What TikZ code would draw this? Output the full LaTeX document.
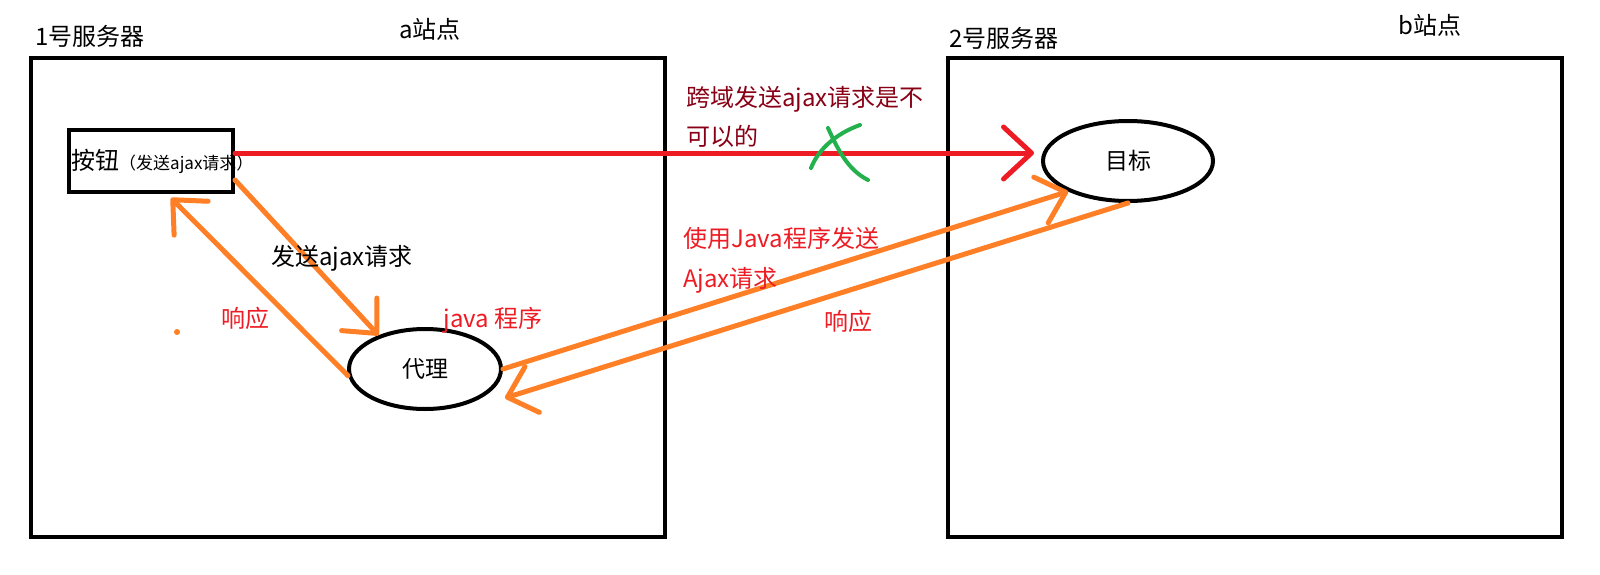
\documentclass[tikz,border=0pt]{standalone}
\usepackage{fontspec}
\setmainfont{Noto Sans CJK SC}
\usetikzlibrary{arrows.meta,shapes.geometric,positioning,calc}
\definecolor{paintred}{RGB}{237,28,36}
\definecolor{paintdarkred}{RGB}{136,0,21}
\definecolor{paintorange}{RGB}{255,127,39}
\definecolor{paintgreen}{RGB}{34,177,76}
\tikzset{
  lbl/.style={inner sep=0pt,font=\fontsize{24}{28}\selectfont},
  redlbl/.style={lbl,text=paintred},
  serverbox/.style={rectangle,draw=black,line width=4pt,inner sep=0pt},
  btnbox/.style={rectangle,draw=black,line width=4pt,inner sep=0pt},
  endpoint/.style={ellipse,draw=black,line width=4pt,inner sep=0pt,font=\fontsize{23}{26}\selectfont},
  redarr/.style={draw=paintred,line width=5pt,line cap=round,-{Straight Barb[length=28pt,width=52pt,line width=5pt,round]}},
  orangearr/.style={draw=paintorange,line width=5pt,line cap=round,-{Straight Barb[length=26pt,width=48pt,line width=5pt,round]}},
  crossmark/.style={draw=paintgreen,line width=4pt,line cap=round}
}
\begin{document}
\begin{tikzpicture}[x=1pt,y=-1pt]
  \useasboundingbox (0,0) rectangle (1600,575);
  % the two servers
  \node[serverbox,minimum width=634pt,minimum height=479pt] (srvA) at (348,297.5) {};
  \node[serverbox,minimum width=614pt,minimum height=479pt] (srvB) at (1255,297.5) {};
  \node[lbl] (srvAname) at (90,36) {1号服务器};
  \node[lbl] (siteA) at (430,29) {a站点};
  \node[lbl] (srvBname) at (1004,38) {2号服务器};
  \node[lbl] (siteB) at (1430,25) {b站点};

  % site a
  \node[btnbox,minimum width=164pt,minimum height=62pt] (btn) at (151,161) {};
  \node[lbl,anchor=west] (btntext) at (71,161) {按钮{\fontsize{17}{20}\selectfont（发送ajax请求）}};
  \node[endpoint,minimum width=152pt,minimum height=80pt] (proxy) at (425,369) {代理};
  % site b
  \node[endpoint,minimum width=170pt,minimum height=80pt] (target) at (1128,161) {目标};

  % direct request (not allowed)
  \draw[redarr] ([yshift=8pt]btn.east) -- ([shift={(-7pt,8pt)}]target.west);
  \node[lbl,text=paintdarkred,anchor=west,align=left,font=\fontsize{24}{39}\selectfont] (crosslbl) at (686,116.5) {跨域发送ajax请求是不\\可以的};
  \draw[crossmark] (811,168) .. controls (818,150) and (835,134) .. (860,125);
  \draw[crossmark] (828,128) .. controls (838,150) and (848,170) .. (868,180);

  % via the proxy
  \draw[orangearr] ([yshift=-19pt]btn.east) -- (proxy.144);
  \draw[orangearr] (proxy.185) -- ([shift={(20pt,-4pt)}]btn.south);
  \draw[orangearr] (proxy.east) -- (target.207);
  \draw[orangearr] (target.south) -- ([shift={(80pt,-29pt)}]proxy.center);
  \fill[paintorange] (177,332) circle (3pt);

  \node[lbl] (sendlbl) at (342,258) {发送ajax请求};
  \node[redlbl] (resplblA) at (245,318) {响应};
  \node[redlbl] (javalbl) at (493,320) {java 程序};
  \node[redlbl,anchor=west,align=left,font=\fontsize{24}{40}\selectfont] (javasend) at (683,260) {使用Java程序发送\\Ajax请求};
  \node[redlbl] (resplblB) at (848,321) {响应};
\end{tikzpicture}
\end{document}
